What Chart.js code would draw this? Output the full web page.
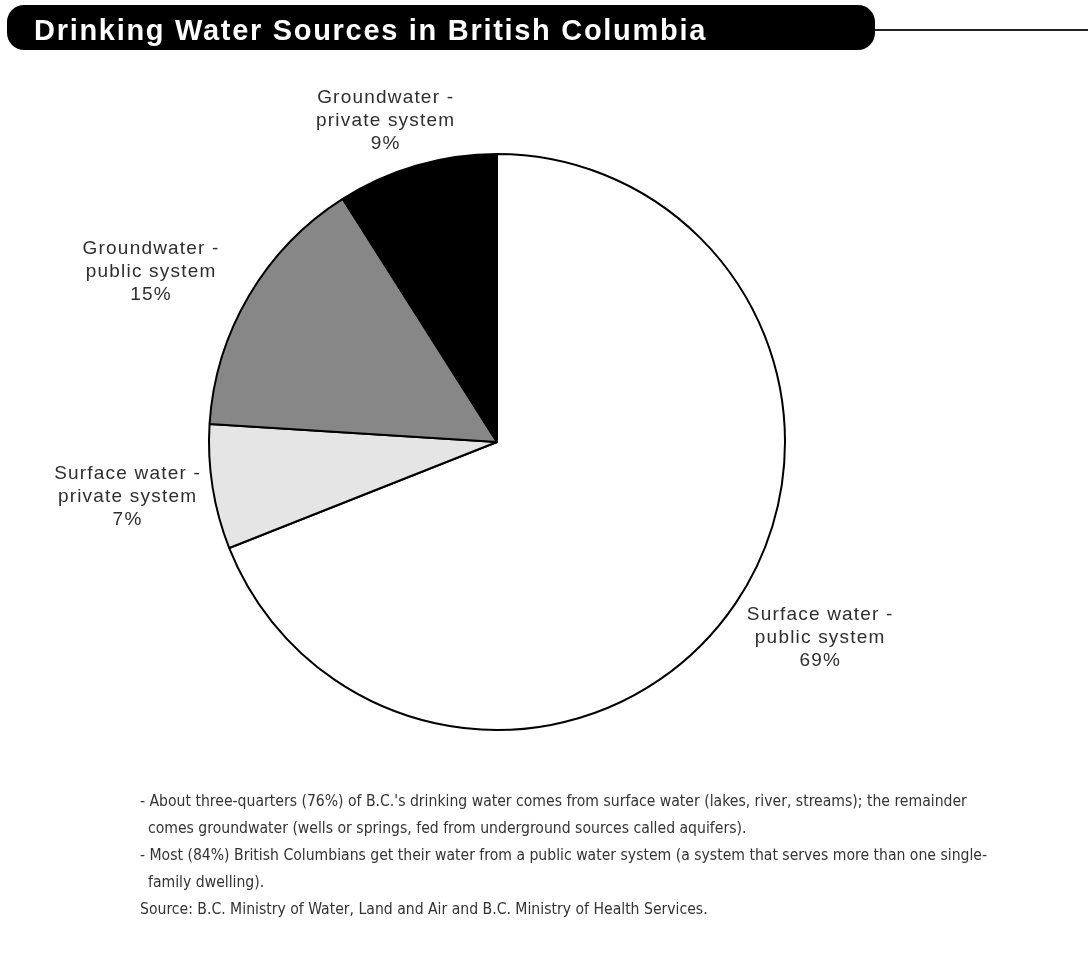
<!DOCTYPE html>
<html>
<head>
<meta charset="utf-8">
<script src="https://cdn.jsdelivr.net/npm/chart.js@4.4.1/dist/chart.umd.min.js"></script>
<style>
  html, body { margin: 0; padding: 0; background: #fff; }
  body { width: 1088px; height: 977px; position: relative; overflow: hidden; }
  #titleBar {
    position: absolute; left: 7px; top: 5px; width: 868px; height: 45px;
    background: #000; border-radius: 17px;
  }
  #titleText {
    position: absolute; left: 34px; top: 8px; height: 44px; line-height: 44px;
    color: #fff; font-family: "Liberation Sans", Arial, sans-serif; font-weight: bold; font-size: 29px;
    letter-spacing: 1.7px; white-space: nowrap;
  }
  #titleRule {
    position: absolute; left: 875px; top: 29px; width: 213px; height: 2px; background: #222;
  }
  #chartBox { position: absolute; left: 0; top: 0; width: 1088px; height: 977px; }
  #notes {
    position: absolute; left: 140px; top: 788px;
    font-family: "Liberation Sans Narrow", "DejaVu Sans Condensed", "Liberation Sans", sans-serif;
    font-size: 15.6px; color: #333; white-space: nowrap;
  }
  #notes div { height: 26.9px; line-height: 26px; }
  #notes .indent { padding-left: 8px; }
</style>
</head>
<body>
<div id="chartBox"><canvas id="pieChart"></canvas></div>
<div id="titleBar"></div>
<div id="titleText">Drinking Water Sources in British Columbia</div>
<div id="titleRule"></div>
<div id="notes">
  <div>- About three-quarters (76%) of B.C.'s drinking water comes from surface water (lakes, river, streams); the remainder</div>
  <div class="indent">comes groundwater (wells or springs, fed from underground sources called aquifers).</div>
  <div>- Most (84%) British Columbians get their water from a public water system (a system that serves more than one single-</div>
  <div class="indent">family dwelling).</div>
  <div>Source: B.C. Ministry of Water, Land and Air and B.C. Ministry of Health Services.</div>
</div>
<script>
const sourceLabels = [
    ['Surface water -', 'public system'],
    ['Surface water -', 'private system'],
    ['Groundwater -', 'public system'],
    ['Groundwater -', 'private system']
];
const sourceShares = [69, 7, 15, 9];

const sliceColors = ['#ffffff', '#e5e5e5', '#878787', '#000000'];

// where each label sits relative to the rim point at the middle of its slice
const labelNudge = [
    { dx: 85, dy: 34 },
    { dx: -85, dy: 10 },
    { dx: -98, dy: -24 },
    { dx: -31, dy: -45 }
];

const sliceLabels = {
    id: 'sliceLabels',
    afterDatasetsDraw(chart) {
        const ctx = chart.ctx;
        const meta = chart.getDatasetMeta(0);
        ctx.save();
        ctx.font = '19px "Liberation Sans", Arial, sans-serif';
        ctx.fillStyle = '#2e2e2e';
        ctx.textAlign = 'center';
        ctx.textBaseline = 'middle';
        if ('letterSpacing' in ctx) ctx.letterSpacing = '1.2px';
        meta.data.forEach((arc, i) => {
            const p = arc.getProps(['x', 'y', 'startAngle', 'endAngle', 'outerRadius'], true);
            const mid = (p.startAngle + p.endAngle) / 2;
            const cx = p.x + Math.cos(mid) * p.outerRadius + labelNudge[i].dx;
            const cy = p.y + Math.sin(mid) * p.outerRadius + labelNudge[i].dy;
            const lines = sourceLabels[i].concat([sourceShares[i] + '%']);
            const lh = 23;
            lines.forEach((txt, j) => {
                ctx.fillText(txt, cx, cy + (j - 1) * lh);
            });
        });
        ctx.restore();
    }
};

const pieChartElement = document.getElementById('pieChart');

const pieChart = new Chart(pieChartElement, {
    type: 'pie',
    data: {
        labels: sourceLabels.map(l => l.join(' ')),
        datasets: [{
            data: sourceShares,
            backgroundColor: sliceColors,
            borderColor: '#000',
            borderWidth: 2
        }]
    },
    options: {
        responsive: true,
        maintainAspectRatio: false,
        animation: false,
        layout: {
            padding: { left: 208, right: 302, top: 153, bottom: 246 }
        },
        plugins: {
            legend: { display: false },
            tooltip: { enabled: false },
            title: { display: false }
        }
    },
    plugins: [sliceLabels]
});
</script>
</body>
</html>
